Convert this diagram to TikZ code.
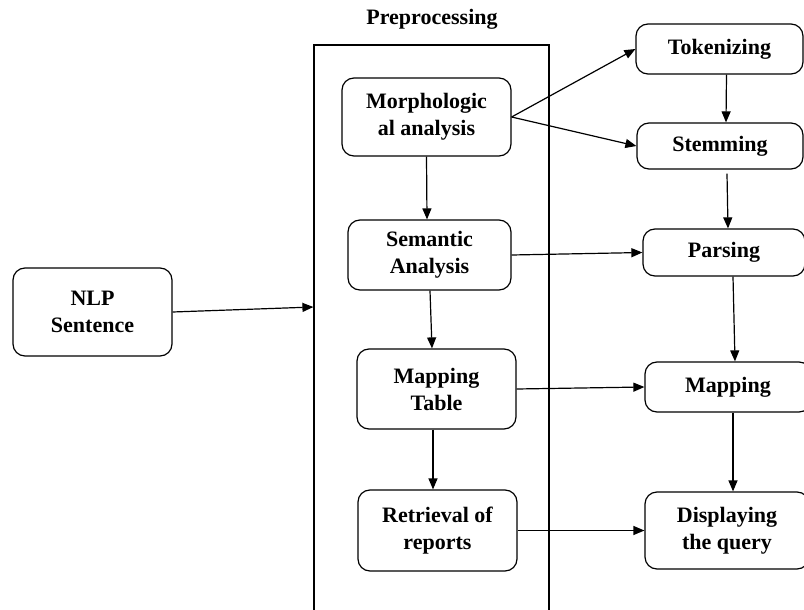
\documentclass[tikz,border=0pt]{standalone}
\usepackage{fontspec}
\setmainfont{Liberation Serif}
\usetikzlibrary{arrows.meta}
\begin{document}
\begin{tikzpicture}[x=1pt,y=-1pt,
  box/.style={draw,line width=1.2pt,rounded corners=12pt,align=center,inner sep=2pt,
    font=\fontsize{22}{27}\selectfont\bfseries},
  arr/.style={line width=1.2pt,-{Triangle[length=11pt,width=9pt]}},
  lbl/.style={font=\fontsize{22}{27}\selectfont\bfseries}]
\useasboundingbox (0,0) rectangle (804,610);
\clip (0,0) rectangle (804,610);
\fill[white] (0,0) rectangle (804,610);
\node[draw,line width=1.2pt,minimum width=235pt,minimum height=575pt,inner sep=0pt] (prep) at (431.5,332.5) {};
\node[lbl] (preplbl) at (432,19) {Preprocessing};
\node[box,minimum width=159pt,minimum height=88pt] (nlp) at (92.5,312) {NLP\\Sentence};
\node[box,minimum width=169pt,minimum height=78pt] (morph) at (426.5,117) {Morphologic\\al analysis};
\node[box,minimum width=163pt,minimum height=70pt] (sem) at (429.5,255) {Semantic\\Analysis};
\node[box,minimum width=159pt,minimum height=80pt] (mtab) at (436.5,389) {Mapping\\Table};
\node[box,minimum width=159pt,minimum height=81pt] (ret) at (437.5,530.5) {Retrieval of\\reports};
\node[box,minimum width=167pt,minimum height=50pt] (tok) at (719.5,49) {Tokenizing};
\node[box,minimum width=166pt,minimum height=46pt] (stem) at (720,146) {Stemming};
\node[box,minimum width=162pt,minimum height=47pt] (pars) at (724,252.5) {Parsing};
\node[box,minimum width=166pt,minimum height=50pt] (map) at (728,387) {Mapping};
\node[box,minimum width=164pt,minimum height=77pt] (disp) at (727,530.5) {Displaying\\the query};
\draw[arr] (nlp.east) -- (prep.west |- 0,307);
\draw[arr] (morph.east) -- (tok.west);
\draw[arr] (morph.east) -- (stem.west);
\draw[arr] ([xshift=7pt]tok.south) -- ([xshift=6pt]stem.north);
\draw[arr] ([xshift=7pt,yshift=-4pt]stem.south) -- ([xshift=4pt]pars.north);
\draw[arr] (sem.east) -- (pars.west);
\draw[arr] ([xshift=9pt]pars.south) -- ([xshift=7pt]map.north);
\draw[arr] (mtab.east) -- (map.west);
\draw[arr] ([xshift=5pt]map.south) -- ([xshift=6pt]disp.north);
\draw[arr] (ret.east) -- (disp.west);
\draw[arr] (morph.south) -- ([xshift=-2.5pt]sem.north);
\draw[arr] ([xshift=0.5pt]sem.south) -- ([xshift=-4.5pt]mtab.north);
\draw[arr] ([xshift=-3.5pt]mtab.south) -- ([xshift=-4.5pt]ret.north);
\end{tikzpicture}
\end{document}
